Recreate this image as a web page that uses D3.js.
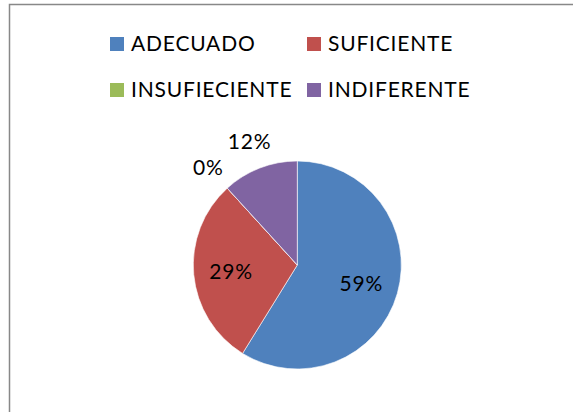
<!DOCTYPE html>
<html><head><meta charset="utf-8">
<script src="https://cdn.jsdelivr.net/npm/d3@7"></script>
<style>html,body{margin:0;padding:0;background:#fff;}svg{display:block;}</style>
</head><body>
<script>
const categories = ["ADECUADO", "SUFICIENTE", "INSUFIECIENTE", "INDIFERENTE"];
const counts = [10, 5, 0, 2];
const colors = ["#4F81BD", "#C0504D", "#9BBB59", "#8064A2"];

const W = 573, H = 412;
const svg = d3.select("body").append("svg").attr("width", W).attr("height", H);
const FONT = "Lato, 'Open Sans', sans-serif";

// chart frame
svg.append("rect").attr("x", 9.5).attr("y", 4.5).attr("width", 600).attr("height", 450)
  .attr("fill", "#fff").attr("stroke", "#888").attr("stroke-width", 1.5);

// legend
const legX = d3.scalePoint().domain([0, 1]).range([110, 307]);
const legY = d3.scalePoint().domain([0, 1]).range([44, 90]);
const leg = svg.append("g").selectAll("g").data(categories).join("g")
  .attr("transform", (d, i) => `translate(${legX(i % 2)},${legY(Math.floor(i / 2))})`);
leg.append("rect").attr("x", 0).attr("y", -7).attr("width", 14).attr("height", 14)
  .attr("fill", (d, i) => colors[i]);
leg.append("text").attr("x", 21).attr("y", 0).attr("dy", "0.35em")
  .attr("font-family", FONT).attr("font-size", 21).attr("letter-spacing", 0.8)
  .attr("fill", "#000").text(d => d);

// pie
const cx = 297.3, cy = 265, R = 104;
const total = d3.sum(counts);
const pie = d3.pie().sort(null).value(d => d)(counts);
const arc = d3.arc().innerRadius(0).outerRadius(R);
const inArc = d3.arc().innerRadius(R * 0.64).outerRadius(R * 0.64);
const outArc = d3.arc().innerRadius(R * 1.27).outerRadius(R * 1.27);
const g = svg.append("g").attr("transform", `translate(${cx},${cy})`);
g.selectAll("path").data(pie).join("path")
  .attr("d", arc).attr("fill", (d, i) => colors[i])
  .attr("stroke", "#fff").attr("stroke-width", 0.6);

g.selectAll("text.lbl").data(pie).join("text").attr("class", "lbl")
  .attr("transform", d => {
    const share = d.value / total;
    const c = share < 0.15 ? outArc.centroid(d) : inArc.centroid(d);
    return `translate(${c[0]},${c[1]})`;
  })
  .attr("text-anchor", "middle").attr("dy", "0.35em")
  .attr("font-family", FONT).attr("font-size", 21).attr("letter-spacing", 0.8)
  .attr("fill", "#000")
  .text(d => Math.round(d.value / total * 100) + "%");
</script>
</body></html>
